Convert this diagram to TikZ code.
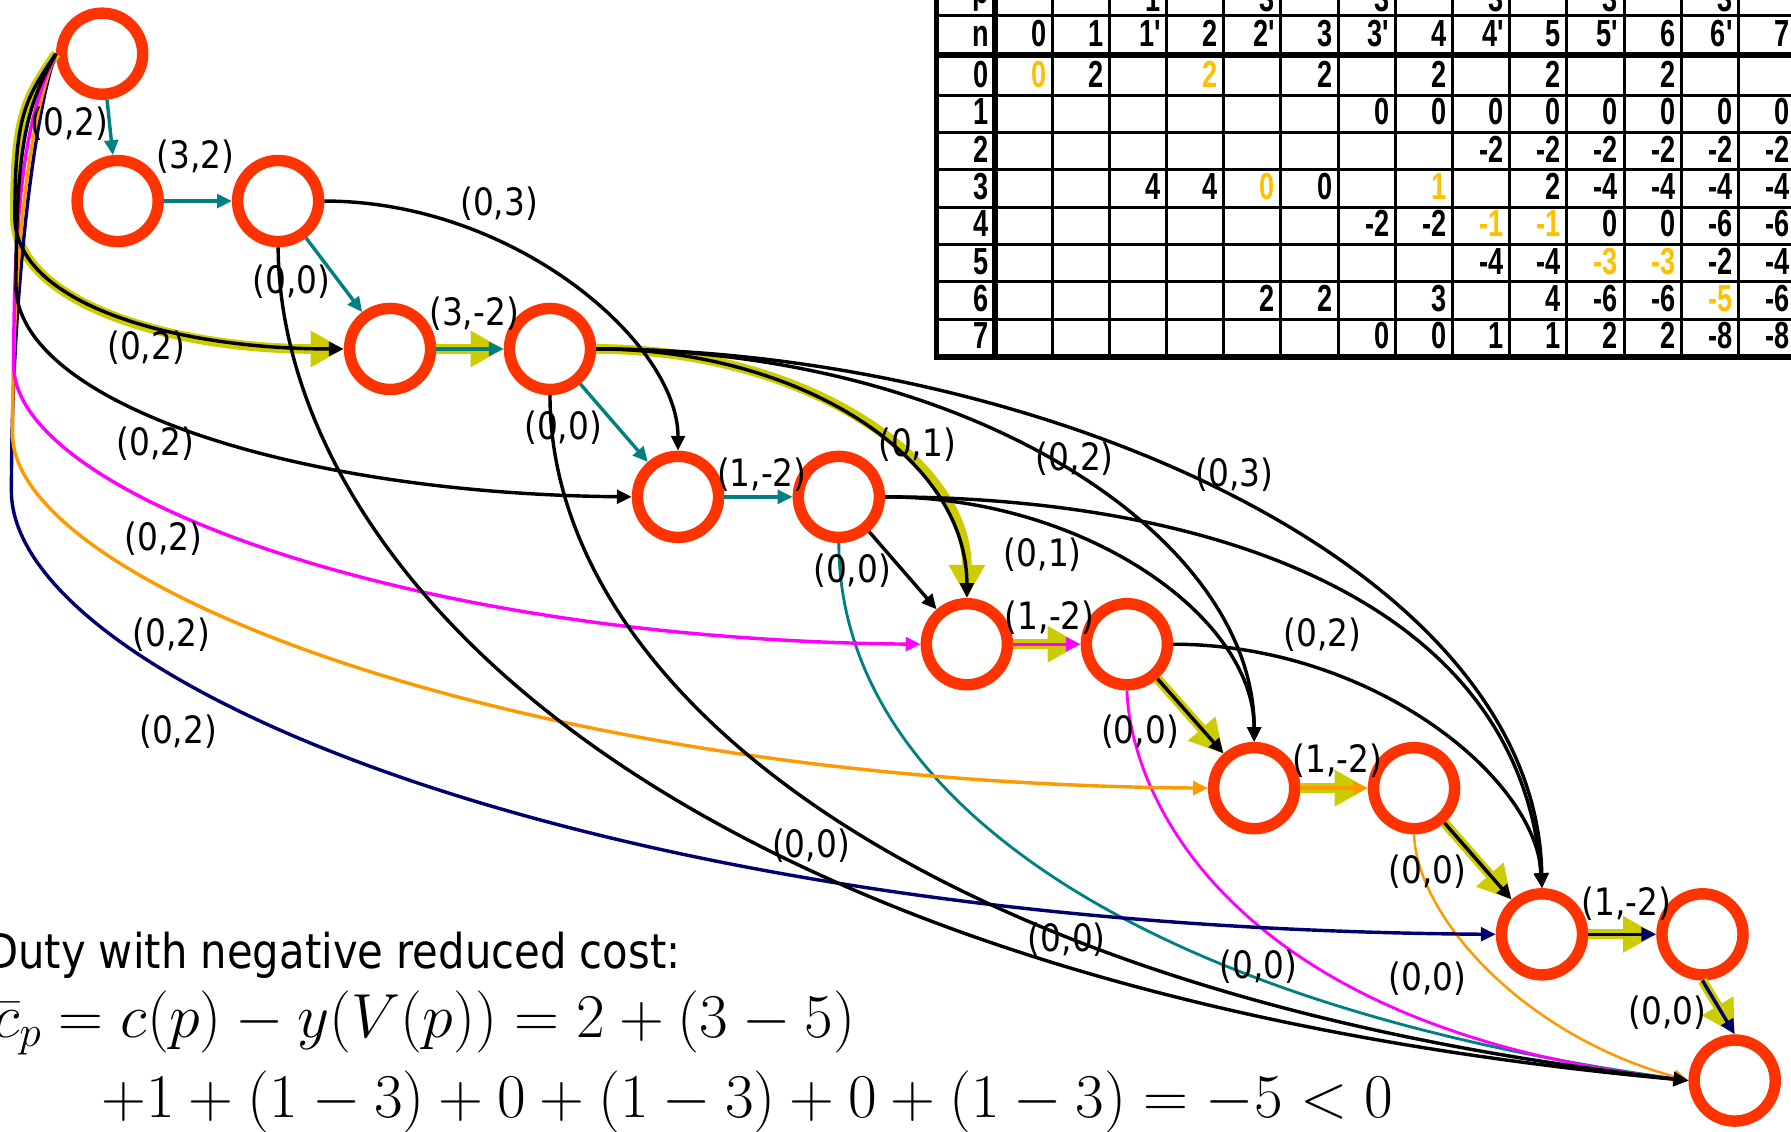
\RequirePackage{fix-cm}
\documentclass[tikz,border=0pt]{standalone}
\usepackage{fontspec}
\usetikzlibrary{arrows.meta}
\newfontfamily\lblfont{DejaVu Sans}[FakeStretch=0.87]
\newfontfamily\tabfont{Liberation Sans}[FakeStretch=0.72]
\definecolor{ringred}{RGB}{255,51,0}
\definecolor{tealc}{RGB}{0,128,128}
\definecolor{hilite}{RGB}{204,204,0}
\definecolor{magc}{RGB}{255,0,255}
\definecolor{orgc}{RGB}{255,153,0}
\definecolor{navyc}{RGB}{0,0,110}
\definecolor{goldc}{RGB}{255,192,0}
\tikzset{
  ring/.style={circle, draw=ringred, line width=10pt, minimum size=71pt, inner sep=0pt},
  lbl/.style={font=\lblfont\fontsize{33}{33}\selectfont, inner sep=0pt},
  tipb/.style={-{Triangle[length=13pt,width=12pt]}},
  blk/.style={draw=black, line width=3pt, tipb},
  tl/.style={draw=tealc, line width=3pt, tipb},
  tlthin/.style={draw=tealc, line width=2.5pt, tipb},
  mg/.style={draw=magc, line width=3pt, tipb},
  mgthin/.style={draw=magc, line width=2.5pt, tipb},
  og/.style={draw=orgc, line width=3pt, tipb},
  ogthin/.style={draw=orgc, line width=2.2pt, tipb},
  nv/.style={draw=navyc, line width=3pt, tipb},
  hl/.style={draw=hilite, line width=8.5pt, -{Triangle[length=29pt,width=30pt]}},
  tabtxt/.style={font=\tabfont\bfseries\fontsize{33}{33}\selectfont, anchor=base east, inner sep=0pt},
  tabthin/.style={draw=black, line width=2.6pt},
  tabthick/.style={draw=black, line width=5pt},
  mathtxt/.style={font=\fontsize{54.5}{54.5}\selectfont, inner sep=0pt},
}
\newcommand\tabcell[4][black]{\node[tabtxt,text=#1] (cell-#2-#3) at ({916.1+50.07*#3},{76.5+32.7*#2}) {#4};}
\begin{document}
\begin{tikzpicture}[x=1pt,y=-1pt]
\useasboundingbox (0,0) rectangle (1568,991);
\clip (0,0) rectangle (1568,991);
% ---------- nodes
\node[ring] (A0) at (89.5,47) {};
\node[ring] (A1) at (103,176) {};
\node[ring] (A2) at (243.5,176) {};
\node[ring] (B1) at (341.5,305.5) {};
\node[ring] (B2) at (481.5,305.5) {};
\node[ring] (C1) at (593.6,435) {};
\node[ring] (C2) at (734.4,435) {};
\node[ring] (D1) at (846.5,564) {};
\node[ring] (D2) at (986.6,564) {};
\node[ring] (E1) at (1098,690) {};
\node[ring] (E2) at (1238,690) {};
\node[ring] (F1) at (1350,818) {};
\node[ring] (F2) at (1490.5,818) {};
\node[ring] (G) at (1518.7,946) {};
% ---------- highlighted path
\draw[hl] (A0.west) .. controls (22,87) and (13,100) .. (13,190) .. controls (13,265) and (150,305.5) .. (B1.west);
\draw[hl] (B1) -- (B2);
\draw[hl] (B2.east) .. controls (700,305.5) and (846.5,400) .. (D1.north);
\draw[hl] (D1) -- (D2);
\draw[hl] (D2) -- (E1);
\draw[hl] (E1) -- (E2);
\draw[hl] (E2) -- (F1);
\draw[hl] (F1) -- (F2);
\draw[hl] (F2.south) -- (G.north);
% ---------- arcs to sink (coloured)
\draw[tlthin] (C2.south) .. controls (734.4,700) and (1000,880) .. (G.west);
\draw[mgthin] (D2.south) .. controls (990,700) and (1080,900) .. (G.west);
\draw[ogthin] (E2.south) .. controls (1240,800) and (1330,905) .. (G.west);
% ---------- arcs from source
\draw[nv] (A0.west) .. controls (32,90) and (10,250) .. (10,430) .. controls (10,590) and (500,812) .. (F1.west);
\draw[og] (A0.west) .. controls (30,90) and (11,200) .. (11,380) .. controls (11,510) and (450,685) .. (E1.west);
\draw[mg] (A0.west) .. controls (28,90) and (12,150) .. (12,320) .. controls (12,430) and (350,560) .. (D1.west);
\draw[blk] (A0.west) .. controls (25,90) and (14,120) .. (14,250) .. controls (14,350) and (250,432) .. (C1.west);
\draw[blk] (A0.west) .. controls (22,87) and (13,100) .. (13,190) .. controls (13,265) and (150,305.5) .. (B1.west);
% ---------- flight arcs
\draw[mg] (D1) -- (D2);
\draw[og] (E1) -- (E2);
\draw[nv] (F1) -- (F2);
\draw[nv] (F2.south) -- (G.north);
% ---------- black connection arcs
\draw[blk] (A2.east) .. controls (450,176) and (593.6,300) .. (C1.north);
\draw[blk] (A2.south) .. controls (245,480) and (550,860) .. (G.west);
\draw[blk] (B2.south) .. controls (481.5,600) and (800,870) .. (G.west);
\draw[blk] (B2.east) .. controls (700,305.5) and (846.5,400) .. (D1.north);
\draw[blk] (B2.east) .. controls (850,305.5) and (1098,470) .. (E1.north);
\draw[blk] (B2.east) .. controls (900,305.5) and (1345,490) .. (F1.north);
\draw[blk] (C2) -- (D1);
\draw[blk] (C2.east) .. controls (950,435) and (1098,540) .. (E1.north);
\draw[blk] (C2.east) .. controls (1050,435) and (1330,520) .. (F1.north);
\draw[blk] (D2) -- (E1);
\draw[blk] (D2.east) .. controls (1200,564) and (1345,680) .. (F1.north);
\draw[blk] (E2) -- (F1);
% ---------- teal arcs
\draw[tl] (A0) -- (A1);
\draw[tl] (A1) -- (A2);
\draw[tl] (A2) -- (B1);
\draw[tl] (B1) -- (B2);
\draw[tl] (B2) -- (C1);
\draw[tl] (C1) -- (C2);
% ---------- labels
\node[lbl] (L1) at (61,108) {(0,2)};
\node[lbl] (L2) at (171,137) {(3,2)};
\node[lbl] (L3) at (437,178) {(0,3)};
\node[lbl] (L4) at (255,247) {(0,0)};
\node[lbl] (L5) at (415,275) {(3,-2)};
\node[lbl] (L6) at (128,304) {(0,2)};
\node[lbl] (L7) at (493,374) {(0,0)};
\node[lbl] (L8) at (136,388) {(0,2)};
\node[lbl] (L9) at (667,416) {(1,-2)};
\node[lbl] (L10) at (803,389) {(0,1)};
\node[lbl] (L11) at (941,402) {(0,2)};
\node[lbl] (L12) at (1081,416) {(0,3)};
\node[lbl] (L13) at (143,472) {(0,2)};
\node[lbl] (L14) at (746,500) {(0,0)};
\node[lbl] (L15) at (913,486) {(0,1)};
\node[lbl] (L16) at (919,541) {(1,-2)};
\node[lbl] (L17) at (150,556) {(0,2)};
\node[lbl] (L18) at (1158,556) {(0,2)};
\node[lbl] (L19) at (998,641) {(0,0)};
\node[lbl] (L20) at (1171,666) {(1,-2)};
\node[lbl] (L21) at (156,641) {(0,2)};
\node[lbl] (L22) at (710,740) {(0,0)};
\node[lbl] (L23) at (1250,763) {(0,0)};
\node[lbl] (L24) at (1424,791) {(1,-2)};
\node[lbl] (L25) at (934,823) {(0,0)};
\node[lbl] (L26) at (1102,846) {(0,0)};
\node[lbl] (L27) at (1250,857) {(0,0)};
\node[lbl] (L28) at (1460,887) {(0,0)};
% ---------- text and formula
\node[font=\lblfont\fontsize{42}{42}\selectfont, anchor=base east, inner sep=0pt] (duty) at (596,848) {Duty with negative reduced cost:};
\node[mathtxt, anchor=base east] (eq1) at (749,908) {$\bar{c}_p = c(p) - y\bigl(V(p)\bigr) = 2 + (3-5)$};
\node[mathtxt, anchor=base west] (eq2) at (89,978) {$+1 + (1-3) + 0 + (1-3) + 0 + (1-3) = -5 < 0$};
% ---------- table
\foreach \k in {0,...,12} \draw[tabthin] ({921.1+50.07*\k},-20) -- ({921.1+50.07*\k},312.6);
\draw[tabthin] (817.5,13.5) -- (1600,13.5);
\foreach \k in {0,...,6} \draw[tabthin] (817.5,{83.2+32.7*\k}) -- (1600,{83.2+32.7*\k});
\draw[tabthick] (817.5,48.2) -- (1600,48.2);
\draw[tabthick] (817.5,312.6) -- (1600,312.6);
\draw[tabthick] (820,-20) -- (820,315.1);
\draw[tabthick] (871,-20) -- (871,315.1);
\node[tabtxt] (ph) at (866,3) {p};
\node[tabtxt] (nh) at (866,41) {n};
\foreach \c/\tx in {0/0,1/1,2/1',3/2,4/2',5/3,6/3',7/4,8/4',9/5,10/5',11/6,12/6',13/7}
  \node[tabtxt] (nh-\c) at ({916.1+50.07*\c},41) {\tx};
\foreach \c/\tx in {2/1,4/3,6/3,8/3,10/3,12/3}
  \node[tabtxt] (ph-\c) at ({916.1+50.07*\c},10) {\tx};
\foreach \r in {0,...,7} \node[tabtxt] (rl-\r) at (866,{76.5+32.7*\r}) {\r};
% row 0
\tabcell[goldc]{0}{0}{0} \tabcell{0}{1}{2} \tabcell[goldc]{0}{3}{2} \tabcell{0}{5}{2}
\tabcell{0}{7}{2} \tabcell{0}{9}{2} \tabcell{0}{11}{2}
% row 1
\foreach \c in {6,...,13} {\tabcell{1}{\c}{0}}
% row 2
\foreach \c in {8,...,13} {\tabcell{2}{\c}{-2}}
% row 3
\tabcell{3}{2}{4} \tabcell{3}{3}{4} \tabcell[goldc]{3}{4}{0} \tabcell{3}{5}{0}
\tabcell[goldc]{3}{7}{1} \tabcell{3}{9}{2} \tabcell{3}{10}{-4} \tabcell{3}{11}{-4}
\tabcell{3}{12}{-4} \tabcell{3}{13}{-4}
% row 4
\tabcell{4}{6}{-2} \tabcell{4}{7}{-2} \tabcell[goldc]{4}{8}{-1} \tabcell[goldc]{4}{9}{-1}
\tabcell{4}{10}{0} \tabcell{4}{11}{0} \tabcell{4}{12}{-6} \tabcell{4}{13}{-6}
% row 5
\tabcell{5}{8}{-4} \tabcell{5}{9}{-4} \tabcell[goldc]{5}{10}{-3} \tabcell[goldc]{5}{11}{-3}
\tabcell{5}{12}{-2} \tabcell{5}{13}{-4}
% row 6
\tabcell{6}{4}{2} \tabcell{6}{5}{2} \tabcell{6}{7}{3} \tabcell{6}{9}{4}
\tabcell{6}{10}{-6} \tabcell{6}{11}{-6} \tabcell[goldc]{6}{12}{-5} \tabcell{6}{13}{-6}
% row 7
\tabcell{7}{6}{0} \tabcell{7}{7}{0} \tabcell{7}{8}{1} \tabcell{7}{9}{1}
\tabcell{7}{10}{2} \tabcell{7}{11}{2} \tabcell{7}{12}{-8} \tabcell{7}{13}{-8}
\end{tikzpicture}
\end{document}
